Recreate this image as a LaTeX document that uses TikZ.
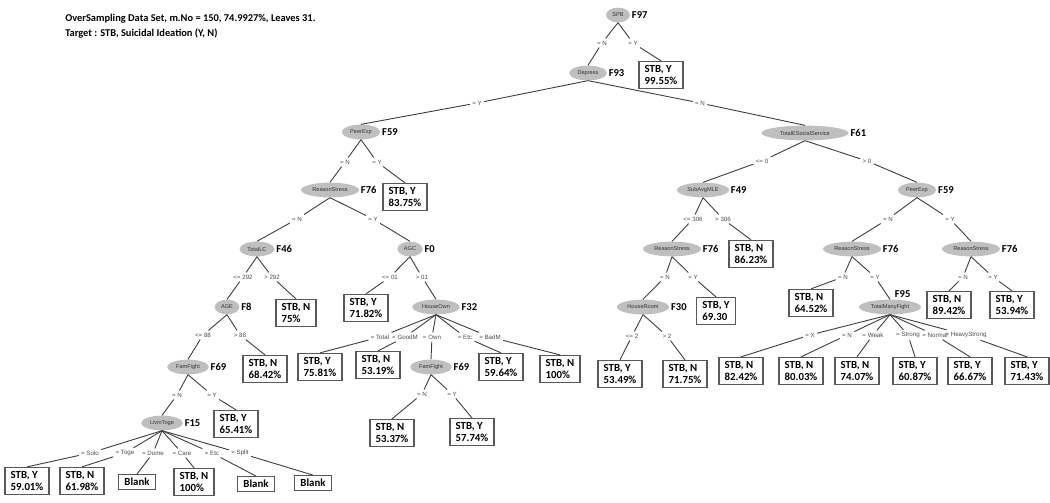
\documentclass[tikz,border=0pt]{standalone}
\usepackage{fontspec}
\setmainfont{Carlito}
\newfontfamily\tinysans{Liberation Sans}
\usetikzlibrary{shapes.geometric}

\tikzstyle{splitNode}=[shape=ellipse,fill=gray!50,inner xsep=2pt,inner ysep=1pt,minimum height=10.5pt,font=\tinysans\fontsize{4}{4.5}\selectfont,text=black!80]
\tikzstyle{fieldTag}=[font=\bfseries\fontsize{7.5}{8}\selectfont,inner sep=1pt]
\tikzstyle{leafBox}=[shape=rectangle,draw=black!65,line width=0.8pt,fill=white,align=left,inner xsep=4pt,inner ysep=2.5pt,font=\bfseries\fontsize{7.7}{9.2}\selectfont]
\tikzstyle{edgeLabel}=[font=\tinysans\fontsize{4.4}{4.8}\selectfont,text=black!70,inner sep=1.5pt]
\tikzstyle{branch}=[draw=black!75,line width=0.65pt]
\tikzstyle{titleText}=[anchor=north west,align=left,inner sep=0pt,font=\bfseries\fontsize{7.4}{10.5}\selectfont]

\begin{document}
\begin{tikzpicture}[x=0.025cm,y=-0.025cm]
        \useasboundingbox (0,0) rectangle (1050,502);
        \node[titleText] (title) at (65,14) {OverSampling Data Set, m.No = 150, 74.9927\%, Leaves 31.\\Target : STB, Suicidal Ideation (Y, N)};

        % split nodes
        \node[splitNode,label={[fieldTag,name=t1]east:F97}]  (n1)  at (618,15)  {SPB};
        \node[splitNode,label={[fieldTag,name=t2]east:F93}]  (n2)  at (588,73)  {Depress};
        \node[splitNode,label={[fieldTag,name=t3]east:F59}]  (n3)  at (361,132) {PeerExp};
        \node[splitNode,label={[fieldTag,name=t4]east:F76}]  (n4)  at (330,190) {ReasonStress};
        \node[splitNode,label={[fieldTag,name=t5]east:F46}]  (n5)  at (257,249) {TotalLC};
        \node[splitNode,label={[fieldTag,name=t6]east:F8}]   (n6)  at (227,307) {AGE};
        \node[splitNode,label={[fieldTag,name=t7]east:F69}]  (n7)  at (188,367) {FamFight};
        \node[splitNode,label={[fieldTag,name=t8]east:F15}]  (n8)  at (162,423) {LivinToge};
        \node[splitNode,label={[fieldTag,name=t9]east:F0}]   (n9)  at (410,249) {AGC};
        \node[splitNode,label={[fieldTag,name=t10]east:F32}] (n10) at (436,307) {HouseOwn};
        \node[splitNode,label={[fieldTag,name=t11]east:F69}] (n11) at (431,367) {FamFight};
        \node[splitNode,minimum width=62pt,label={[fieldTag,name=t12]east:F61}] (n12) at (805,133) {TotalESocialService};
        \node[splitNode,label={[fieldTag,name=t13]east:F49}] (n13) at (703,190) {SubAvgMLE};
        \node[splitNode,label={[fieldTag,name=t14]east:F76}] (n14) at (672,249) {ReasonStress};
        \node[splitNode,label={[fieldTag,name=t15]east:F30}] (n15) at (643,307) {HouseRoom};
        \node[splitNode,label={[fieldTag,name=t16]east:F59}] (n16) at (917,190) {PeerExp};
        \node[splitNode,label={[fieldTag,name=t17]east:F76}] (n17) at (852,249) {ReasonStress};
        \node[splitNode,label={[fieldTag,name=t18,anchor=south,xshift=9pt]north:F95}] (n18) at (890,307) {TotalManyFight};
        \node[splitNode,label={[fieldTag,name=t19]east:F76}] (n19) at (971,249) {ReasonStress};

        % leaves
        \node[leafBox] (b1)  at (661,75)  {STB, Y\\99.55\%};
        \node[leafBox] (b2)  at (405,197) {STB, Y\\83.75\%};
        \node[leafBox] (b3)  at (296,313) {STB, N\\75\%};
        \node[leafBox] (b4)  at (265,369) {STB, N\\68.42\%};
        \node[leafBox] (b5)  at (236,424) {STB, Y\\65.41\%};
        \node[leafBox] (b6)  at (27,481)  {STB, Y\\59.01\%};
        \node[leafBox] (b7)  at (82,481)  {STB, N\\61.98\%};
        \node[leafBox] (b8)  at (137,482) {Blank};
        \node[leafBox] (b9)  at (194,482) {STB, N\\100\%};
        \node[leafBox] (b10) at (256,484) {Blank};
        \node[leafBox] (b11) at (313,483) {Blank};
        \node[leafBox] (b12) at (366,308) {STB, Y\\71.82\%};
        \node[leafBox] (b13) at (320,367) {STB, Y\\75.81\%};
        \node[leafBox] (b14) at (378,365) {STB, N\\53.19\%};
        \node[leafBox] (b15) at (501,367) {STB, Y\\59.64\%};
        \node[leafBox] (b16) at (560,369) {STB, N\\100\%};
        \node[leafBox] (b17) at (392,433) {STB, N\\53.37\%};
        \node[leafBox] (b18) at (472,432) {STB, Y\\57.74\%};
        \node[leafBox] (b19) at (751,254) {STB, N\\86.23\%};
        \node[leafBox] (b20) at (716,311) {STB, Y\\69.30};
        \node[leafBox] (b21) at (620,374) {STB, Y\\53.49\%};
        \node[leafBox] (b22) at (685,374) {STB, N\\71.75\%};
        \node[leafBox] (b23) at (811,303) {STB, N\\64.52\%};
        \node[leafBox] (b24) at (741,371) {STB, N\\82.42\%};
        \node[leafBox] (b25) at (801,371) {STB, N\\80.03\%};
        \node[leafBox] (b26) at (857,371) {STB, N\\74.07\%};
        \node[leafBox] (b27) at (915,371) {STB, Y\\60.87\%};
        \node[leafBox] (b28) at (970,371) {STB, Y\\66.67\%};
        \node[leafBox] (b29) at (1027,371) {STB, Y\\71.43\%};
        \node[leafBox] (b30) at (949,305) {STB, N\\89.42\%};
        \node[leafBox] (b31) at (1012,305) {STB, Y\\53.94\%};

        % branch labels
        \node[edgeLabel] (e1)  at (602,43)  {= N};
        \node[edgeLabel] (e2)  at (633,43)  {= Y};
        \node[edgeLabel] (e3)  at (477,103) {= Y};
        \node[edgeLabel] (e4)  at (700,103) {= N};
        \node[edgeLabel] (e5)  at (345,162) {= N};
        \node[edgeLabel] (e6)  at (377,162) {= Y};
        \node[edgeLabel] (e7)  at (297,219) {= N};
        \node[edgeLabel] (e8)  at (373,219) {= Y};
        \node[edgeLabel] (e9)  at (243,277) {<= 292};
        \node[edgeLabel] (e10) at (272,277) {> 292};
        \node[edgeLabel] (e11) at (203,335) {<= 88};
        \node[edgeLabel] (e12) at (240,335) {> 88};
        \node[edgeLabel] (e13) at (177,395) {= N};
        \node[edgeLabel] (e14) at (212,395) {= Y};
        \node[edgeLabel] (e15) at (90,453)  {= Solo};
        \node[edgeLabel] (e16) at (125,453) {= Toge};
        \node[edgeLabel] (e17) at (153,453) {= Dome};
        \node[edgeLabel] (e18) at (182,453) {= Care};
        \node[edgeLabel] (e19) at (212,453) {= Etc};
        \node[edgeLabel] (e20) at (240,453) {= Split};
        \node[edgeLabel] (e21) at (390,277) {<= 01};
        \node[edgeLabel] (e22) at (422,277) {> 01};
        \node[edgeLabel] (e23) at (380,337) {= Total};
        \node[edgeLabel] (e24) at (405,337) {= GoodM};
        \node[edgeLabel] (e25) at (432,337) {= Own};
        \node[edgeLabel] (e26) at (465,337) {= Etc};
        \node[edgeLabel] (e27) at (490,337) {= BadM};
        \node[edgeLabel] (e28) at (422,394) {= N};
        \node[edgeLabel] (e29) at (452,394) {= Y};
        \node[edgeLabel] (e30) at (762,161) {<= 0};
        \node[edgeLabel] (e31) at (867,161) {> 0};
        \node[edgeLabel] (e32) at (693,219) {<= 306};
        \node[edgeLabel] (e33) at (723,219) {> 306};
        \node[edgeLabel] (e34) at (665,277) {= N};
        \node[edgeLabel] (e35) at (693,277) {= Y};
        \node[edgeLabel] (e36) at (632,336) {<= 2};
        \node[edgeLabel] (e37) at (667,336) {> 2};
        \node[edgeLabel] (e38) at (888,219) {= N};
        \node[edgeLabel] (e39) at (950,219) {= Y};
        \node[edgeLabel] (e40) at (843,277) {= N};
        \node[edgeLabel] (e41) at (875,277) {= Y};
        \node[edgeLabel] (e42) at (810,335) {= X};
        \node[edgeLabel] (e43) at (847,335) {= N};
        \node[edgeLabel] (e44) at (873,335) {= Weak};
        \node[edgeLabel] (e45) at (908,335) {= Strong};
        \node[edgeLabel] (e46) at (935,335) {= Normal};
        \node[edgeLabel] (e47) at (966,335) {= HeavyStrong};
        \node[edgeLabel] (e48) at (963,277) {= N};
        \node[edgeLabel] (e49) at (993,277) {= Y};

        % left part
        \draw [branch] (n1.south) to (e1) to (n2.north);
        \draw [branch] (n1.south) to (e2) to (b1.north);
        \draw [branch] (n2.south) to (e3) to (n3.north);
        \draw [branch] (n2.south) to (e4) to (n12.north);
        \draw [branch] (n3.south) to (e5) to (n4.north);
        \draw [branch] (n3.south) to (e6) to (b2.north);
        \draw [branch] (n4.south) to (e7) to (n5.north);
        \draw [branch] (n4.south) to (e8) to (n9.north);
        \draw [branch] (n5.south) to (e9) to (n6.north);
        \draw [branch] (n5.south) to (e10) to (b3.north);
        \draw [branch] (n6.south) to (e11) to (n7.north);
        \draw [branch] (n6.south) to (e12) to (b4.north);
        \draw [branch] (n7.south) to (e13) to (n8.north);
        \draw [branch] (n7.south) to (e14) to (b5.north);
        \draw [branch] (n8.south) to (e15) to (b6.north);
        \draw [branch] (n8.south) to (e16) to (b7.north);
        \draw [branch] (n8.south) to (e17) to (b8.north);
        \draw [branch] (n8.south) to (e18) to (b9.north);
        \draw [branch] (n8.south) to (e19) to (b10.north);
        \draw [branch] (n8.south) to (e20) to (b11.north);
        \draw [branch] (n9.south) to (e21) to (b12.north);
        \draw [branch] (n9.south) to (e22) to (n10.north);
        \draw [branch] (n10.south) to (e23) to (b13.north);
        \draw [branch] (n10.south) to (e24) to (b14.north);
        \draw [branch] (n10.south) to (e25) to (n11.north);
        \draw [branch] (n10.south) to (e26) to (b15.north);
        \draw [branch] (n10.south) to (e27) to (b16.north);
        \draw [branch] (n11.south) to (e28) to (b17.north);
        \draw [branch] (n11.south) to (e29) to (b18.north);

        % right part
        \draw [branch] (n12.south) to (e30) to (n13.north);
        \draw [branch] (n12.south) to (e31) to (n16.north);
        \draw [branch] (n13.south) to (e32) to (n14.north);
        \draw [branch] (n13.south) to (e33) to (b19.north);
        \draw [branch] (n14.south) to (e34) to (n15.north);
        \draw [branch] (n14.south) to (e35) to (b20.north);
        \draw [branch] (n15.south) to (e36) to (b21.north);
        \draw [branch] (n15.south) to (e37) to (b22.north);
        \draw [branch] (n16.south) to (e38) to (n17.north);
        \draw [branch] (n16.south) to (e39) to (n19.north);
        \draw [branch] (n17.south) to (e40) to (b23.north);
        \draw [branch] (n17.south) to (e41) to (n18.north);
        \draw [branch] (n18.south) to (e42) to (b24.north);
        \draw [branch] (n18.south) to (e43) to (b25.north);
        \draw [branch] (n18.south) to (e44) to (b26.north);
        \draw [branch] (n18.south) to (e45) to (b27.north);
        \draw [branch] (n18.south) to (e46) to (b28.north);
        \draw [branch] (n18.south) to (e47) to (b29.north);
        \draw [branch] (n19.south) to (e48) to (b30.north);
        \draw [branch] (n19.south) to (e49) to (b31.north);
\end{tikzpicture}
\end{document}
